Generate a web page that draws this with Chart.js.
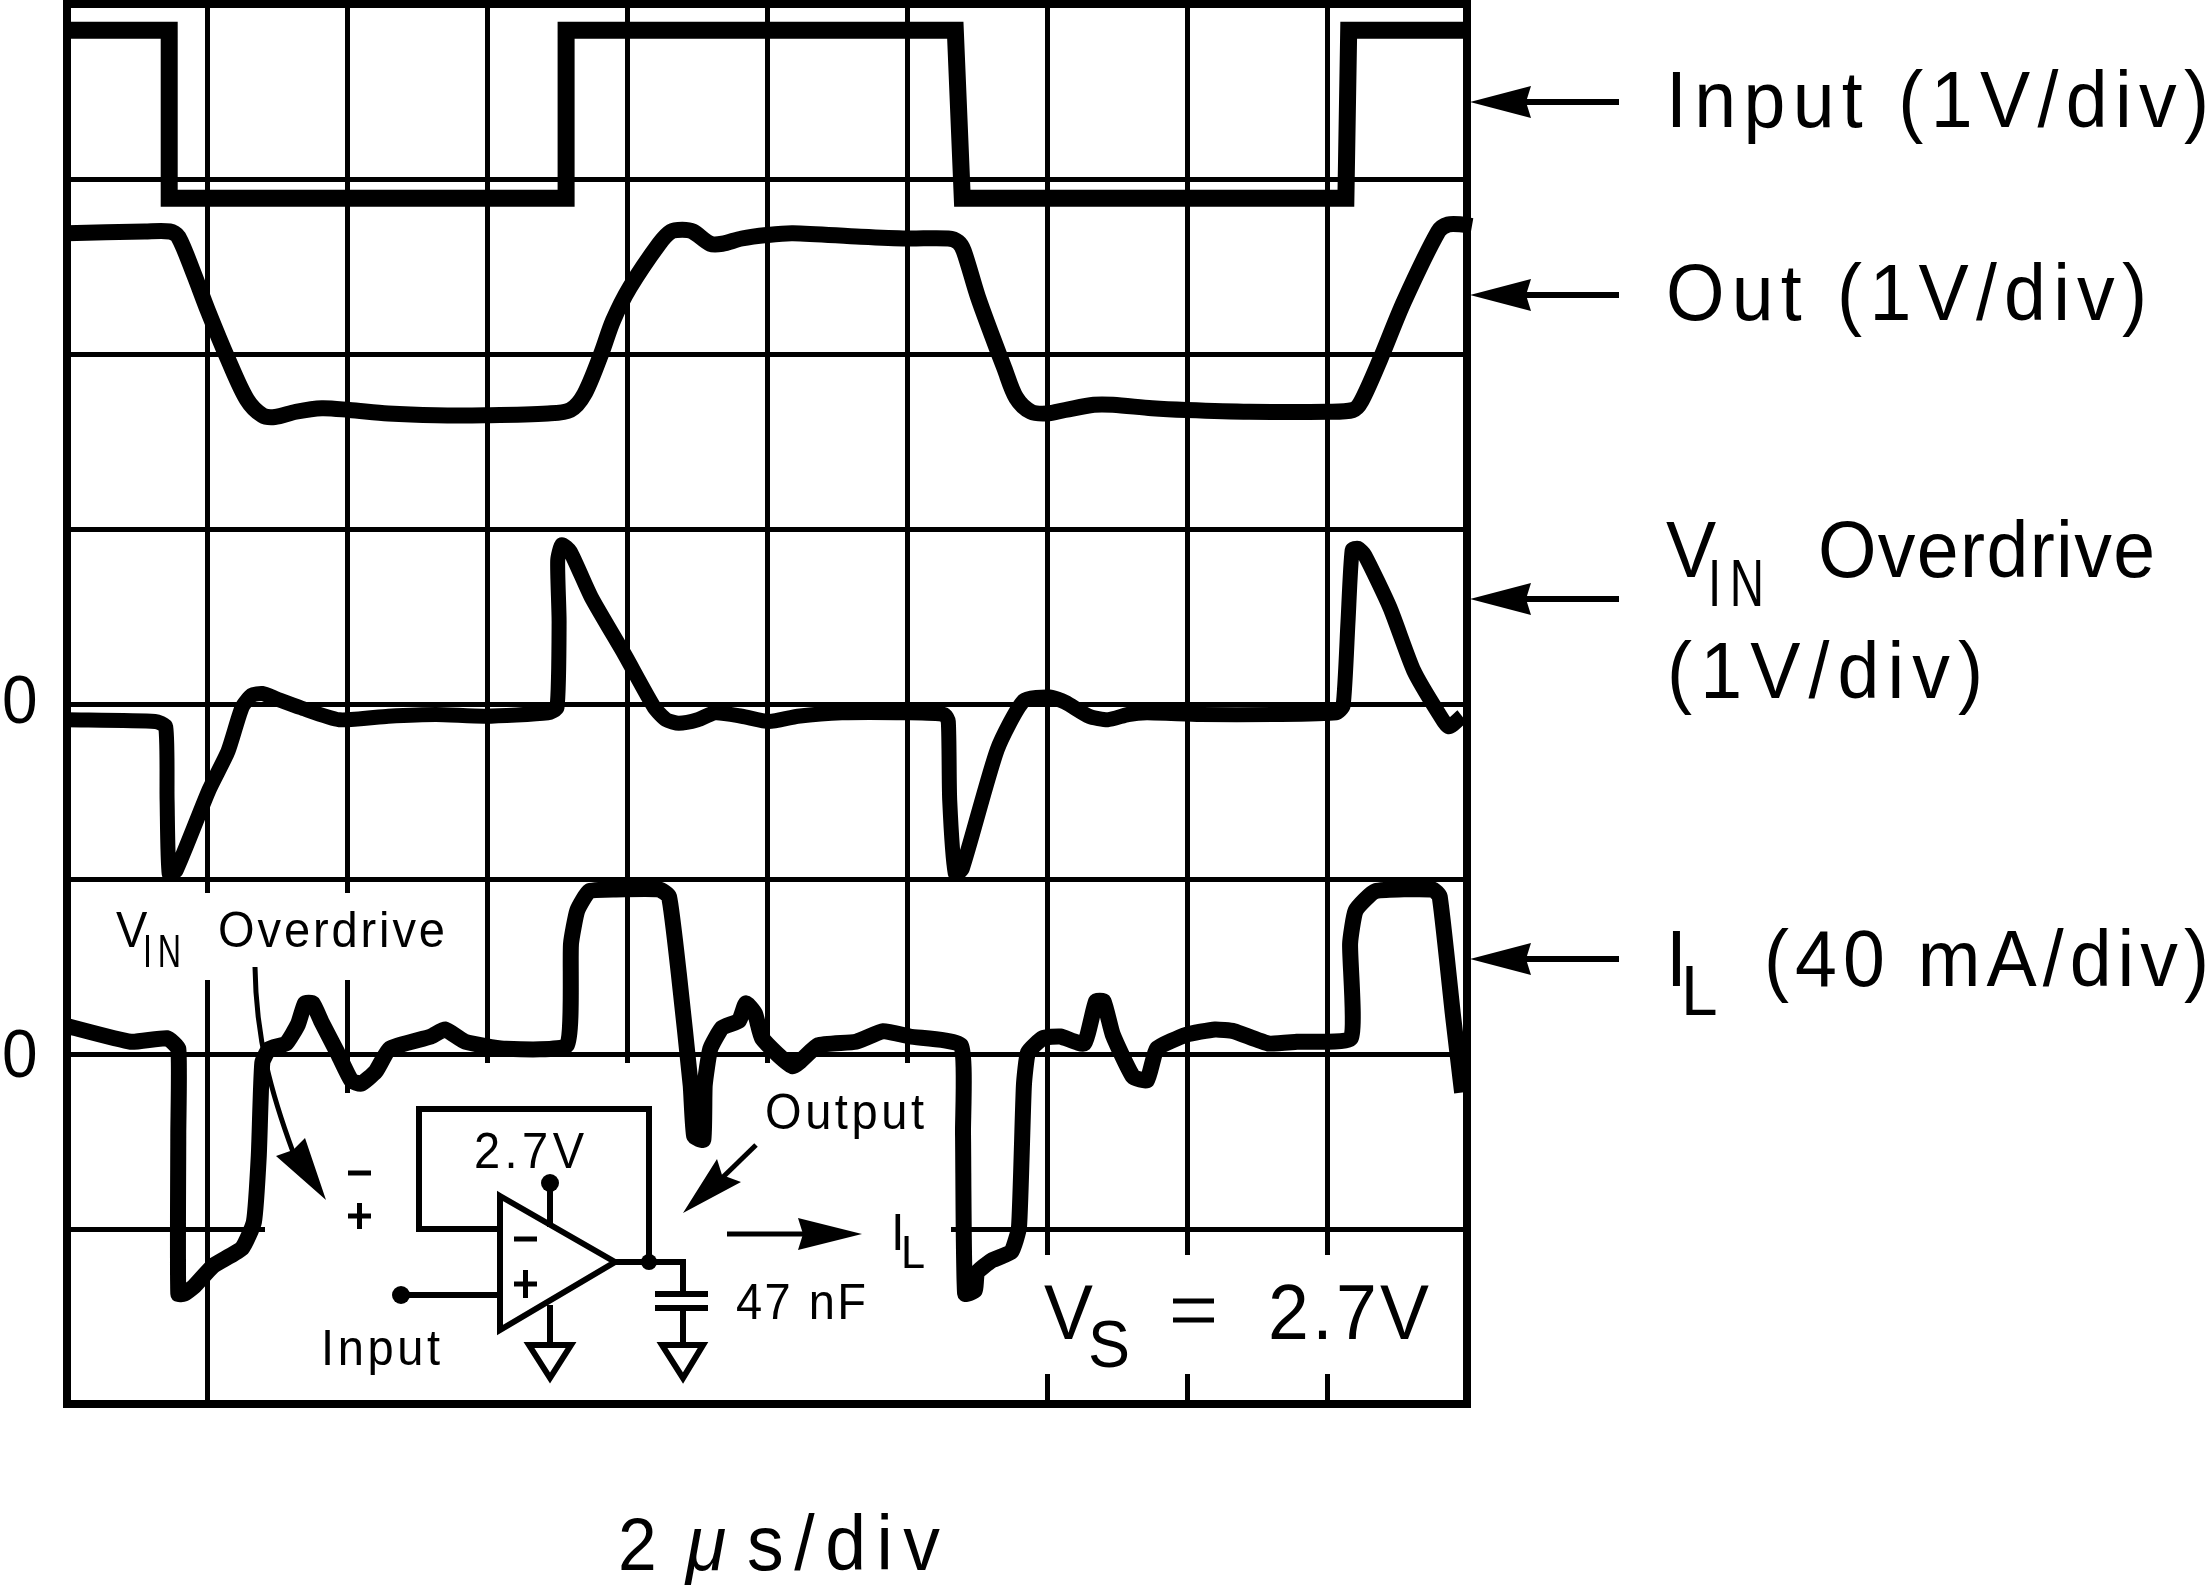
<!DOCTYPE html>
<html>
<head>
<meta charset="utf-8">
<title>Overdrive recovery</title>
<script src="https://cdn.jsdelivr.net/npm/chart.js@4"></script>
<style>
    html, body { margin: 0; padding: 0; background: #fff; }
    canvas { display: block; }
</style>
</head>
<body>
<canvas id="mycanvas" width="2211" height="1589" style="width:2211px;height:1589px"></canvas>
<script>
// x is in microseconds (2 us/div), y is in grid divisions counted from the bottom of the screen
var inputTime = [0, 1.46, 1.46, 7.13, 7.13, 12.69, 12.79, 18.27, 18.31, 20];
var inputLevel = [7.85, 7.85, 6.89, 6.89, 7.85, 7.85, 6.89, 6.89, 7.85, 7.85];

var outTime = [0, 1.11, 1.47, 1.59, 1.81, 2.01, 2.30, 2.57, 2.79, 2.97, 3.27, 3.64, 4.03, 4.59, 5.27, 5.97, 6.87, 7.19, 7.39, 7.63, 7.80, 8.04, 8.46, 8.63, 8.79, 8.94, 9.19, 9.36, 9.64, 10.00, 10.37, 11.34, 12.00, 12.59, 12.73, 12.81, 13.01, 13.21, 13.39, 13.56, 13.77, 14.00, 14.26, 14.67, 14.94, 15.50, 15.99, 16.89, 18.00, 18.37, 18.49, 18.76, 19.10, 19.59, 19.73, 19.93, 20.07];
var outLevel = [6.69, 6.70, 6.70, 6.67, 6.46, 6.25, 5.97, 5.74, 5.65, 5.64, 5.67, 5.69, 5.68, 5.66, 5.65, 5.65, 5.66, 5.68, 5.77, 6.00, 6.19, 6.38, 6.63, 6.70, 6.71, 6.70, 6.63, 6.63, 6.66, 6.68, 6.69, 6.67, 6.66, 6.66, 6.64, 6.59, 6.33, 6.11, 5.92, 5.75, 5.67, 5.66, 5.68, 5.71, 5.71, 5.69, 5.68, 5.67, 5.67, 5.68, 5.73, 5.97, 6.30, 6.70, 6.74, 6.74, 6.73];

var vinTime = [0, 1.26, 1.41, 1.43, 1.46, 1.56, 2.03, 2.30, 2.50, 2.64, 2.79, 2.99, 3.33, 3.89, 4.59, 5.27, 5.97, 6.87, 7.00, 7.03, 7.01, 7.07, 7.19, 7.49, 7.97, 8.39, 8.56, 8.74, 9.01, 9.26, 9.64, 10.03, 10.44, 11.07, 12.00, 12.53, 12.59, 12.61, 12.69, 12.79, 13.29, 13.67, 14.04, 14.26, 14.60, 14.87, 15.16, 15.43, 16.19, 17.23, 18.13, 18.23, 18.30, 18.36, 18.44, 18.54, 18.90, 19.24, 19.59, 19.74, 19.93];
var vinLevel = [3.91, 3.90, 3.87, 3.45, 3.03, 3.05, 3.51, 3.73, 3.98, 4.05, 4.06, 4.03, 3.98, 3.91, 3.93, 3.94, 3.93, 3.95, 3.98, 4.47, 4.82, 4.91, 4.87, 4.61, 4.28, 3.98, 3.91, 3.89, 3.91, 3.95, 3.93, 3.90, 3.93, 3.95, 3.95, 3.94, 3.90, 3.45, 3.03, 3.06, 3.74, 4.02, 4.04, 4.01, 3.93, 3.91, 3.94, 3.95, 3.94, 3.94, 3.95, 3.99, 4.47, 4.88, 4.89, 4.85, 4.55, 4.19, 3.95, 3.87, 3.93];

var loadTime = [0, 0.91, 1.43, 1.59, 1.59, 1.59, 1.67, 1.81, 2.09, 2.50, 2.67, 2.74, 2.79, 2.89, 3.13, 3.30, 3.40, 3.51, 3.64, 3.86, 4.06, 4.20, 4.41, 4.61, 5.20, 5.40, 5.69, 6.24, 7.14, 7.20, 7.29, 7.46, 7.84, 8.46, 8.60, 8.74, 8.91, 8.96, 9.09, 9.11, 9.19, 9.36, 9.60, 9.70, 9.83, 9.93, 10.37, 10.73, 11.27, 11.66, 12.04, 12.77, 12.80, 12.83, 12.97, 13.00, 13.21, 13.49, 13.60, 13.67, 13.73, 13.94, 14.19, 14.53, 14.70, 14.81, 14.94, 15.23, 15.43, 15.57, 15.99, 16.40, 16.67, 17.16, 17.57, 18.34, 18.33, 18.41, 18.69, 19.51, 19.61, 19.80, 19.93];
var loadLevel = [2.16, 2.07, 2.09, 2.03, 1.55, 0.63, 0.63, 0.67, 0.79, 0.89, 1.04, 1.42, 1.95, 2.03, 2.06, 2.17, 2.29, 2.29, 2.18, 2.01, 1.85, 1.83, 1.90, 2.03, 2.10, 2.14, 2.07, 2.03, 2.05, 2.63, 2.82, 2.93, 2.94, 2.94, 2.90, 2.46, 1.82, 1.53, 1.51, 1.82, 2.03, 2.15, 2.19, 2.29, 2.23, 2.09, 1.93, 2.05, 2.07, 2.13, 2.10, 2.05, 1.55, 0.63, 0.65, 0.75, 0.82, 0.87, 1.01, 1.82, 2.01, 2.09, 2.10, 2.06, 2.30, 2.30, 2.11, 1.87, 1.85, 2.03, 2.11, 2.14, 2.13, 2.06, 2.07, 2.09, 2.63, 2.82, 2.93, 2.94, 2.90, 2.22, 1.78];

function toPoints(xs, ys) {
    var pts = [];
    for (var i in xs) {
        pts.push({x: xs[i], y: ys[i]});
    }
    return pts;
}

function trace(label, xs, ys, width, join, bend) {
    return {
        label: label,
        data: toPoints(xs, ys),
        showLine: true,
        fill: false,
        tension: bend,
        clip: false,
        borderColor: "#000",
        borderWidth: width,
        borderJoinStyle: join,
        borderCapStyle: "butt",
        pointRadius: 0
    };
}

// fits a string into a given width, the original lettering is narrow and widely spaced
function label(ctx, text, x, base, width, size, style, squeeze) {
    squeeze = squeeze || 0.94;
    ctx.save();
    ctx.font = (style || "") + " " + size + "px 'Liberation Sans'";
    ctx.letterSpacing = "0px";
    ctx.textAlign = "left";
    ctx.textBaseline = "alphabetic";
    ctx.fillStyle = "#000";
    var gap = 0;
    if (text.length > 1) {
        gap = (width / squeeze - ctx.measureText(text).width) / (text.length - 1);
    }
    ctx.letterSpacing = gap + "px";
    ctx.translate(x, base);
    ctx.scale(squeeze, 1);
    ctx.fillText(text, 0, 0);
    ctx.restore();
}

function path(ctx, pts, width, closed) {
    ctx.beginPath();
    ctx.moveTo(pts[0][0], pts[0][1]);
    for (var i = 1; i < pts.length; i++) {
        ctx.lineTo(pts[i][0], pts[i][1]);
    }
    if (closed) ctx.closePath();
    ctx.lineWidth = width;
    ctx.stroke();
}

function head(ctx, pts) {
    ctx.beginPath();
    ctx.moveTo(pts[0][0], pts[0][1]);
    for (var i = 1; i < pts.length; i++) {
        ctx.lineTo(pts[i][0], pts[i][1]);
    }
    ctx.closePath();
    ctx.fill();
}

function dot(ctx, x, y, r) {
    ctx.beginPath();
    ctx.arc(x, y, r, 0, Math.PI * 2);
    ctx.fill();
}

// parts of the graticule are blanked out behind the labels and the schematic
var gridCuts = {
    id: "gridCuts",
    beforeDatasetsDraw: function(chart) {
        var ctx = chart.ctx;
        ctx.save();
        ctx.fillStyle = "#fff";
        ctx.fillRect(190, 893, 170, 87);
        ctx.fillRect(340, 1093, 16, 309);
        ctx.fillRect(265, 1222, 95, 14);
        ctx.fillRect(358, 1063, 593, 339);
        ctx.fillRect(1040, 1255, 295, 119);
        ctx.restore();
    }
};

var notes = {
    id: "notes",
    afterDatasetsDraw: function(chart) {
        var ctx = chart.ctx;
        var a = chart.chartArea;
        ctx.save();
        ctx.strokeStyle = "#000";
        ctx.fillStyle = "#000";
        ctx.lineJoin = "miter";
        ctx.lineCap = "butt";

        // screen frame
        ctx.lineWidth = 8;
        ctx.strokeRect(a.left, a.top, a.right - a.left, a.bottom - a.top);

        // arrows from the right hand labels
        var ys = [102, 295, 599, 959];
        for (var i in ys) {
            var y = ys[i];
            path(ctx, [[1526, y], [1619, y]], 6);
            head(ctx, [[1470, y], [1531, y - 16], [1526, y], [1531, y + 16]]);
        }

        label(ctx, "Input (1V/div)", 1666, 127, 543, 80);
        label(ctx, "Out (1V/div)", 1666, 320, 481, 80);
        label(ctx, "V", 1666, 577, 40, 80);
        label(ctx, "IN", 1708, 606, 56, 66, "", 0.72);
        label(ctx, "Overdrive", 1818, 577, 337, 80);
        label(ctx, "(1V/div)", 1667, 698, 316, 80);
        label(ctx, "I", 1666, 986, 7, 80);
        label(ctx, "L", 1681, 1015, 27, 70);
        label(ctx, "(40 mA/div)", 1764, 986, 445, 80);

        // trace zero markers
        label(ctx, "0", 2, 723, 28, 68);
        label(ctx, "0", 2, 1077, 28, 68);

        // inner labels
        label(ctx, "V", 116, 947, 27, 50);
        label(ctx, "IN", 143, 967, 38, 46, "", 0.7);
        label(ctx, "Overdrive", 218, 947, 227, 50);
        label(ctx, "2.7V", 474, 1168, 110, 50);
        label(ctx, "Input", 321, 1365, 119, 50);
        label(ctx, "Output", 765, 1129, 159, 50);
        label(ctx, "I", 891, 1250, 5, 52);
        label(ctx, "L", 901, 1268, 18, 46);
        label(ctx, "47 nF", 736, 1319, 130, 50);
        label(ctx, "V", 1044, 1339, 39, 78);
        label(ctx, "S", 1088, 1367, 31, 67);
        label(ctx, "2.7V", 1268, 1339, 161, 78);
        path(ctx, [[1173, 1301], [1214, 1301]], 5);
        path(ctx, [[1173, 1320], [1214, 1320]], 5);

        label(ctx, "2", 618, 1570, 32, 74);
        label(ctx, "\u03bc", 686, 1570, 50, 78, "italic");
        label(ctx, "s/div", 747, 1570, 193, 78);

        // curved arrow down to the op amp inputs
        ctx.beginPath();
        ctx.moveTo(255, 967);
        ctx.bezierCurveTo(256, 1040, 272, 1095, 293, 1152);
        ctx.lineWidth = 5;
        ctx.stroke();
        head(ctx, [[326, 1200], [276, 1156], [293, 1150], [305, 1138]]);
        path(ctx, [[348, 1173], [371, 1173]], 5);
        path(ctx, [[348, 1216], [371, 1216]], 5);
        path(ctx, [[359.5, 1203], [359.5, 1229]], 5);

        // op amp with feedback
        path(ctx, [[500, 1229], [419, 1229], [419, 1109], [649, 1109], [649, 1262]], 6);
        path(ctx, [[500, 1196], [615, 1262], [500, 1330]], 6, true);
        path(ctx, [[514, 1239], [537, 1239]], 5);
        path(ctx, [[514, 1284], [537, 1284]], 5);
        path(ctx, [[525.5, 1270], [525.5, 1298]], 5);
        path(ctx, [[550, 1183], [550, 1227]], 6);
        dot(ctx, 550, 1183, 9);
        path(ctx, [[401, 1295], [499, 1295]], 6);
        dot(ctx, 401, 1295, 9);
        path(ctx, [[615, 1262], [683, 1262], [683, 1293]], 6);
        dot(ctx, 649, 1262, 8);

        // load capacitor and grounds
        path(ctx, [[655, 1294], [708, 1294]], 6);
        path(ctx, [[655, 1308], [708, 1308]], 6);
        path(ctx, [[683, 1308], [683, 1345]], 6);
        path(ctx, [[662, 1345], [703, 1345], [683, 1378]], 6, true);
        path(ctx, [[550, 1305], [550, 1345]], 6);
        path(ctx, [[529, 1345], [571, 1345], [550, 1378]], 6, true);

        // output and load current arrows
        path(ctx, [[756, 1145], [722, 1178]], 5);
        head(ctx, [[683, 1213], [717, 1159], [722, 1175], [741, 1182]]);
        path(ctx, [[727, 1234], [803, 1234]], 5);
        head(ctx, [[862, 1234], [798, 1218], [803, 1234], [798, 1250]]);
        ctx.restore();
    }
};

var ctx = document.getElementById("mycanvas").getContext("2d");

var scope = new Chart(ctx, {
    type: "scatter",
    data: {
        datasets: [
            trace("Input", inputTime, inputLevel, 17, "miter", 0),
            trace("Out", outTime, outLevel, 16, "round", 0.3),
            trace("VIN Overdrive", vinTime, vinLevel, 15, "round", 0.2),
            trace("IL", loadTime, loadLevel, 16, "round", 0.15)
        ]
    },
    options: {
        responsive: false,
        animation: false,
        devicePixelRatio: 1,
        layout: { padding: { left: 67, top: 4, right: 744, bottom: 185 } },
        plugins: { legend: { display: false }, tooltip: { enabled: false } },
        scales: {
            x: {
                type: "linear",
                min: 0,
                max: 20,
                ticks: { display: false, stepSize: 2 },
                grid: { color: "#000", lineWidth: 5, drawTicks: false },
                border: { display: false }
            },
            y: {
                min: 0,
                max: 8,
                ticks: { display: false, stepSize: 1 },
                grid: { color: "#000", lineWidth: 5, drawTicks: false },
                border: { display: false }
            }
        }
    },
    plugins: [gridCuts, notes]
});
</script>
</body>
</html>
